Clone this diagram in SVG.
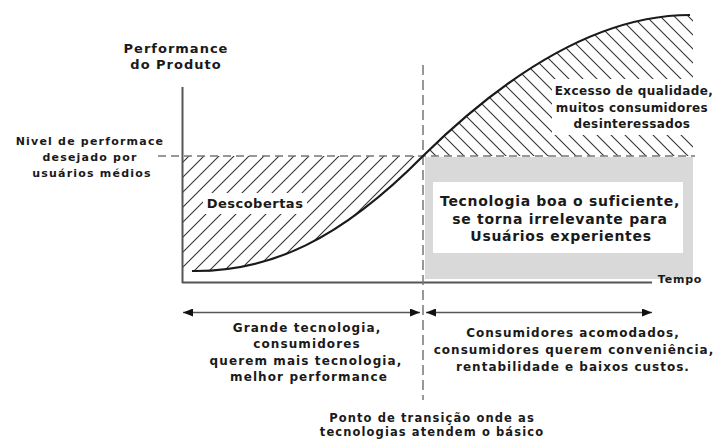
<svg xmlns="http://www.w3.org/2000/svg" width="715" height="441" viewBox="0 0 715 441">
<style>
text{font-family:"DejaVu Sans","Liberation Sans",sans-serif;font-weight:bold;fill:#1a1a1a;text-anchor:middle}
.axis{stroke:#555;stroke-width:2;fill:none}
.dash{stroke:#777;stroke-width:1.5;fill:none}
.curve{stroke:#1a1a1a;stroke-width:2.2;fill:none}
.arr{stroke:#555;stroke-width:1.5;fill:none}
</style>
<defs>
<pattern id="hatchR" patternUnits="userSpaceOnUse" width="15" height="15">
<path d="M-1,1 l2,-2 M0,15 l15,-15 M14,16 l2,-2" stroke="#333" stroke-width="1.1"/>
</pattern>
<pattern id="hatchL" patternUnits="userSpaceOnUse" width="14" height="14">
<path d="M-1,13 l2,2 M0,0 l14,14 M13,-1 l2,2" stroke="#333" stroke-width="1.1"/>
</pattern>
<marker id="ah" viewBox="0 0 10 8" refX="10" refY="4" markerWidth="10" markerHeight="8" markerUnits="userSpaceOnUse" orient="auto-start-reverse">
<path d="M0,0 L10,4 L0,8 Z" fill="#111"/>
</marker>
</defs>
<rect width="715" height="441" fill="#fff"/>

<g id="regions">
<path d="M182,156 L423,156 C340,240 270,272 192,272 L182,272 Z" fill="url(#hatchR)"/>
<path d="M423,156 C480,100 580,15 690,15 L693,15 L693,156 Z" fill="url(#hatchL)"/>
<rect x="425" y="157" width="268" height="122" fill="#d9d9d9"/>
</g>

<g id="connectors">
<line class="axis" x1="182.5" y1="87" x2="182.5" y2="283"/>
<line class="axis" x1="182" y1="282.5" x2="652" y2="282.5"/>
<line class="dash" x1="158" y1="156" x2="695" y2="156" stroke-dasharray="8,5"/>
<line class="dash" x1="423" y1="65" x2="423" y2="400" stroke-dasharray="10,5" stroke="#666"/>
<path class="curve" d="M192,271 C270,272 340,240 423,156 C480,100 580,15 690,15"/>
<line class="arr" x1="183" y1="312.5" x2="420" y2="312.5" marker-start="url(#ah)" marker-end="url(#ah)"/>
<line class="arr" x1="426" y1="312.5" x2="652" y2="312.5" marker-start="url(#ah)" marker-end="url(#ah)"/>
</g>

<g id="y-label">
<text x="176" y="53" font-size="13" letter-spacing="1">Performance</text>
<text x="176" y="68.5" font-size="13" letter-spacing="1">do Produto</text>
</g>

<g id="nivel-label">
<text x="90" y="145" font-size="11" letter-spacing="1.2">Nivel de performace</text>
<text x="90" y="161" font-size="11" letter-spacing="1.2">desejado por</text>
<text x="92" y="177" font-size="11" letter-spacing="1.2">usuários médios</text>
</g>

<g id="descobertas">
<rect x="203" y="193" width="104" height="21" fill="#fff"/>
<text x="255" y="208" font-size="13" letter-spacing="0.5">Descobertas</text>
</g>

<g id="excesso">
<rect x="552" y="79" width="163" height="56" fill="#fff"/>
<text x="634" y="95" font-size="12" letter-spacing="0.4">Excesso de qualidade,</text>
<text x="632" y="111.5" font-size="12" letter-spacing="0.4">muitos consumidores</text>
<text x="632" y="128" font-size="12" letter-spacing="0.4">desinteressados</text>
</g>

<g id="tecnologia">
<rect x="433" y="182" width="250" height="71" fill="#fff"/>
<text x="560" y="206" font-size="14" letter-spacing="0.7">Tecnologia boa o suficiente,</text>
<text x="560" y="223.5" font-size="14" letter-spacing="0.7">se torna irrelevante para</text>
<text x="561" y="241" font-size="14" letter-spacing="0.7">Usuários experientes</text>
</g>

<g id="tempo">
<text x="680" y="283" font-size="11" letter-spacing="0.8">Tempo</text>
</g>

<g id="grande">
<text x="307" y="331.5" font-size="12" letter-spacing="1.1">Grande tecnologia,</text>
<text x="307" y="348" font-size="12" letter-spacing="1.1">consumidores</text>
<text x="306" y="364.5" font-size="12" letter-spacing="1.1">querem mais tecnologia,</text>
<text x="309" y="381" font-size="12" letter-spacing="1.1">melhor performance</text>
</g>

<g id="acomodados">
<text x="573" y="337" font-size="12" letter-spacing="1">Consumidores acomodados,</text>
<text x="574" y="354" font-size="12" letter-spacing="1">consumidores querem conveniência,</text>
<text x="573" y="371" font-size="12" letter-spacing="1">rentabilidade e baixos custos.</text>
</g>

<g id="ponto">
<text x="432" y="422" font-size="11.5" letter-spacing="1.1">Ponto de transição onde as</text>
<text x="432" y="436" font-size="11.5" letter-spacing="1.1">tecnologias atendem o básico</text>
</g>
</svg>
